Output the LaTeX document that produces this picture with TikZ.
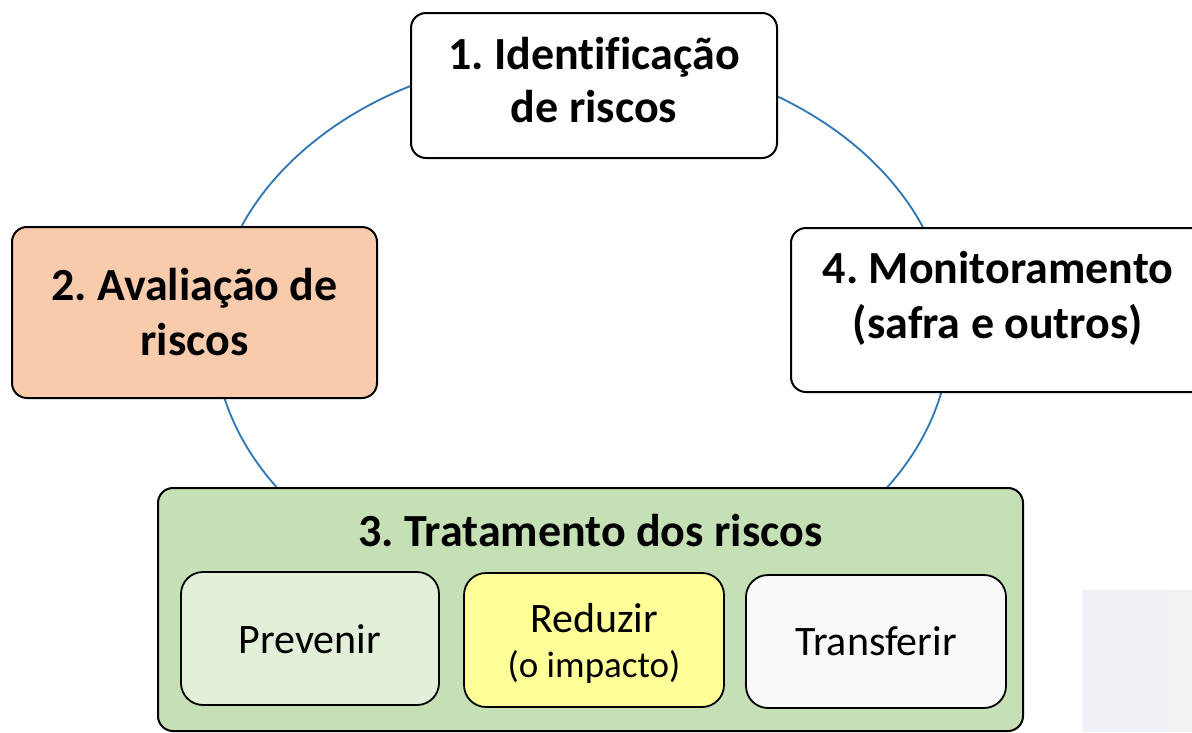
\documentclass[tikz,border=0pt]{standalone}
\usepackage{fontspec}
\setmainfont{Carlito}[Ligatures=NoCommon]
\frenchspacing
\definecolor{ringblue}{HTML}{2E75B6}
\definecolor{peach}{HTML}{F8CBAD}
\definecolor{greenbg}{HTML}{C5E0B4}
\definecolor{lightgreen}{HTML}{E2F0D9}
\definecolor{lightyellow}{HTML}{FFFF99}
\definecolor{offwhite}{HTML}{F9F9F9}
\definecolor{greyA}{HTML}{EEF2F6}
\definecolor{greyB}{HTML}{F2F2F2}
\tikzset{
  box/.style={draw=black, line width=2pt, rounded corners=15pt, inner sep=0pt},
  subbox/.style={draw=black, line width=1.8pt, rounded corners=22pt, inner sep=0pt},
  bigtxt/.style={anchor=base, inner sep=0pt, font=\fontsize{46}{55}\selectfont\bfseries},
  midtxt/.style={anchor=base, inner sep=0pt, font=\fontsize{42}{50}\selectfont},
  smalltxt/.style={anchor=base, inner sep=0pt, font=\fontsize{37}{44}\selectfont},
}
\begin{document}
\begin{tikzpicture}[x=1pt, y=-1pt]
\clip (0,0) rectangle (1192,732);
\fill[white] (0,0) rectangle (1192,732);
% grey patch
\fill[greyA] (1082,590) rectangle (1168,732);
\fill[greyB] (1168,590) rectangle (1192,732);
% ring
\draw[ringblue, line width=1.8pt] (582,332) ellipse [x radius=368, y radius=278];
% boxes
\node[box, fill=white, minimum width=366pt, minimum height=145pt] (b1) at (594,85.5) {};
\node[box, fill=peach, minimum width=365pt, minimum height=171pt] (b2) at (194.5,312.5) {};
\node[box, fill=white, minimum width=420pt, minimum height=164pt] (b4) at (1001,310) {};
\node[box, fill=greenbg, minimum width=865pt, minimum height=243pt] (b3) at (590.5,609.5) {};
\node[subbox, fill=lightgreen, minimum width=258pt, minimum height=133pt] (s1) at (310,638.5) {};
\node[subbox, fill=lightyellow, minimum width=260pt, minimum height=134pt] (s2) at (594,640) {};
\node[subbox, fill=offwhite, minimum width=260pt, minimum height=133pt] (s3) at (876,641.5) {};
% texts
\node[bigtxt] (t1a) at (b1.center |- 0,69) {1. Identificação};
\node[bigtxt] (t1b) at (b1.center |- 0,122) {de riscos};
\node[bigtxt] (t2a) at (b2.center |- 0,300) {2. Avaliação de};
\node[bigtxt] (t2b) at (b2.center |- 0,355) {riscos};
\node[bigtxt] (t4a) at (998,283) {4. Monitoramento};
\node[bigtxt] (t4b) at (998,338) {(safra e outros)};
\node[bigtxt] (t3) at (b3.center |- 0,546) {3. Tratamento dos riscos};
\node[midtxt] (p1) at (s1.center |- 0,653) {Prevenir};
\node[midtxt] (p2a) at (s2.center |- 0,632) {Reduzir};
\node[smalltxt] (p2b) at (s2.center |- 0,677) {(o impacto)};
\node[midtxt] (p3) at (s3.center |- 0,655) {Transferir};
\end{tikzpicture}
\end{document}
